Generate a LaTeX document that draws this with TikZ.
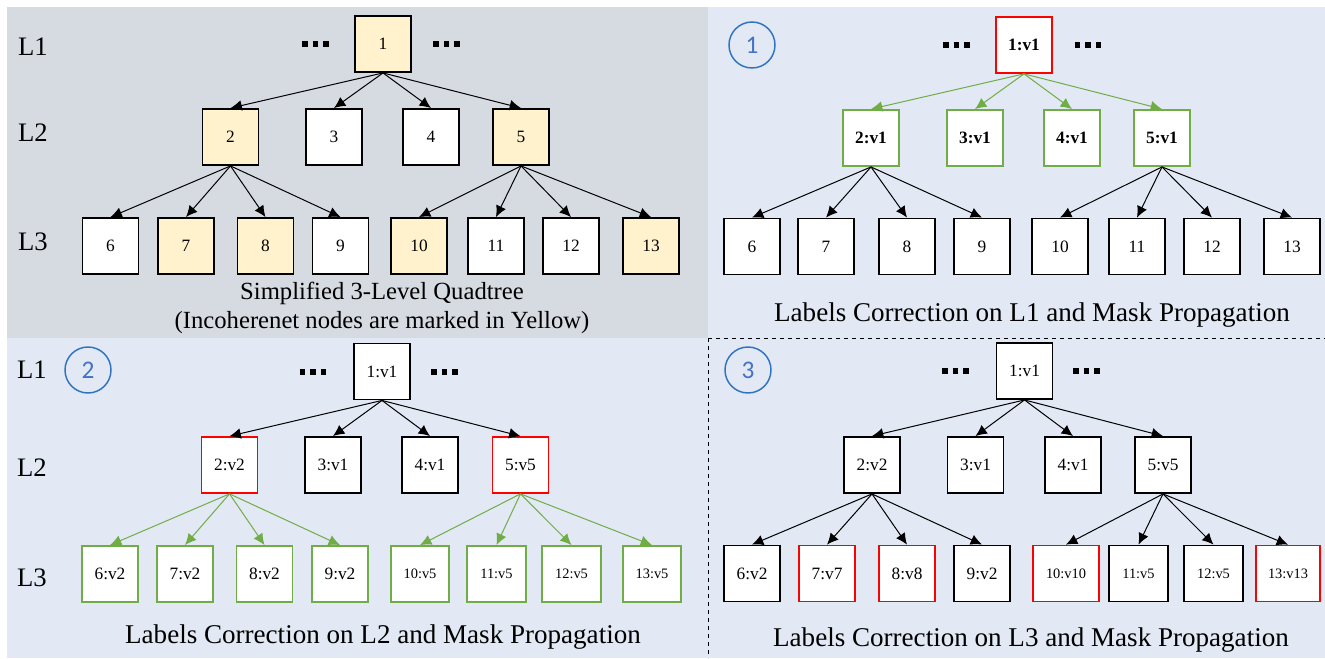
\documentclass[tikz,border=0pt]{standalone}
\usepackage{fontspec}
\setmainfont{Liberation Serif}
\newfontfamily\badgefont{Carlito}
\usetikzlibrary{arrows.meta, positioning}
\definecolor{panelGray}{HTML}{D6DAE1}
\definecolor{panelBlue}{HTML}{E2E8F4}
\definecolor{cellYellow}{HTML}{FFF2CC}
\definecolor{edgeGreen}{HTML}{70AD47}
\definecolor{badgeBlue}{HTML}{2F74C0}
\definecolor{digitBlue}{HTML}{4472C4}
\tikzset{
    qcell/.style={rectangle, draw, line width=1.4pt, fill=white, minimum size=42pt, inner sep=1pt, font=\fontsize{13pt}{15pt}\selectfont},
    qcellY/.style={qcell, fill=cellYellow},
    qcellR/.style={qcell, draw=red, line width=1.3pt},
    qcellG/.style={qcell, draw=edgeGreen},
    treeEdge/.style={-{Latex[length=8.5pt, width=8pt]}, line width=0.75pt},
    treeEdgeG/.style={treeEdge, color=edgeGreen},
    levelTag/.style={font=\fontsize{20pt}{22pt}\selectfont},
    capText/.style={align=center, font=\fontsize{20.3pt}{24pt}\selectfont},
    badge/.style={circle, draw=badgeBlue, line width=1.1pt, minimum size=34.5pt, inner sep=0pt, text=digitBlue, font=\badgefont\fontsize{19pt}{22pt}\selectfont},
    dotRow/.style={inner sep=0pt},
}
\newcommand{\sqDots}{\rule{4.3pt}{4.1pt}\hspace{3.6pt}\rule{4.3pt}{4.1pt}\hspace{3.6pt}\rule{4.3pt}{4.1pt}}
\newcommand{\fanOut}[3][treeEdge]{
    \foreach \kid in {#3} {\draw[#1] (#2.south) -- (\kid.north);}
}

\begin{document}
\begin{tikzpicture}[x=0.75pt, y=-0.75pt]
        \useasboundingbox (0,0) rectangle (1325,658);
        \fill[white] (0,0) rectangle (1325,658);
        % backgrounds and separators
        \fill[panelBlue] (7,7) rectangle (1325,658);
        \fill[panelGray] (7,7) rectangle (708,338);
        \draw[dashed, line width=0.6pt] (708,338) -- (1325,338);
        \draw[dashed, line width=0.6pt] (708,338) -- (708,658);

        % panel a: simplified quadtree
        \node[levelTag] (aL1) at (33,47) {L1};
        \node[levelTag] (aL2) at (33,133) {L2};
        \node[levelTag] (aL3) at (33,242) {L3};
        \node[qcellY] (a1) at (383,44) {1};
        \node[dotRow] (aDL) at (315.5,44) {\sqDots};
        \node[dotRow] (aDR) at (446.5,44) {\sqDots};
        \node[qcellY] (a2) at (230.5,137) {2};
        \node[qcell] (a3) at (334,137) {3};
        \node[qcell] (a4) at (431,137) {4};
        \node[qcellY] (a5) at (521,137) {5};
        \node[qcell] (a6) at (110.5,246) {6};
        \node[qcellY] (a7) at (186,246) {7};
        \node[qcellY] (a8) at (265.5,246) {8};
        \node[qcell] (a9) at (340.5,246) {9};
        \node[qcellY] (a10) at (419,246) {10};
        \node[qcell] (a11) at (496,246) {11};
        \node[qcell] (a12) at (571,246) {12};
        \node[qcellY] (a13) at (651,246) {13};
        \fanOut{a1}{a2,a3,a4,a5}
        \fanOut{a2}{a6,a7,a8,a9}
        \fanOut{a5}{a10,a11,a12,a13}
        \node[capText, font=\fontsize{18.5pt}{21.75pt}\selectfont] (aCap) at (382,307.5)
            {Simplified 3-Level Quadtree\\(Incoherenet nodes are marked in Yellow)};

        % panel b: correction on L1
        \node[badge] (bBadge) at (752,45) {1};
        \node[qcellR, font=\bfseries\fontsize{13pt}{15pt}\selectfont] (b1) at (1024,45) {1:v1};
        \node[dotRow] (bDL) at (956.5,45) {\sqDots};
        \node[dotRow] (bDR) at (1088,45) {\sqDots};
        \node[qcellG, font=\bfseries\fontsize{13pt}{15pt}\selectfont] (b2) at (871,138) {2:v1};
        \node[qcellG, font=\bfseries\fontsize{13pt}{15pt}\selectfont] (b3) at (975,138) {3:v1};
        \node[qcellG, font=\bfseries\fontsize{13pt}{15pt}\selectfont] (b4) at (1072,138) {4:v1};
        \node[qcellG, font=\bfseries\fontsize{13pt}{15pt}\selectfont] (b5) at (1162,138) {5:v1};
        \node[qcell] (b6) at (752,246.5) {6};
        \node[qcell] (b7) at (826,246.5) {7};
        \node[qcell] (b8) at (907,246.5) {8};
        \node[qcell] (b9) at (982,246.5) {9};
        \node[qcell] (b10) at (1060,246.5) {10};
        \node[qcell] (b11) at (1137,246.5) {11};
        \node[qcell] (b12) at (1212,246.5) {12};
        \node[qcell] (b13) at (1292,246.5) {13};
        \fanOut[treeEdgeG]{b1}{b2,b3,b4,b5}
        \fanOut{b2}{b6,b7,b8,b9}
        \fanOut{b5}{b10,b11,b12,b13}
        \node[capText] (bCap) at (1032,315) {Labels Correction on L1 and Mask Propagation};

        % panel c: correction on L2
        \node[levelTag] (cL1) at (32,370) {L1};
        \node[levelTag] (cL2) at (32,468) {L2};
        \node[levelTag] (cL3) at (32,578) {L3};
        \node[badge] (cBadge) at (88,370) {2};
        \node[qcell] (c1) at (382,371.5) {1:v1};
        \node[dotRow] (cDL) at (313,372) {\sqDots};
        \node[dotRow] (cDR) at (444.5,372) {\sqDots};
        \node[qcellR] (c2) at (229.5,465) {2:v2};
        \node[qcell] (c3) at (333,465) {3:v1};
        \node[qcell] (c4) at (430,465) {4:v1};
        \node[qcellR] (c5) at (520.5,465) {5:v5};
        \node[qcellG] (c6) at (110,574) {6:v2};
        \node[qcellG] (c7) at (185,574) {7:v2};
        \node[qcellG] (c8) at (264.5,574) {8:v2};
        \node[qcellG] (c9) at (340,574) {9:v2};
        \node[qcellG, minimum width=44pt, font=\fontsize{10.8pt}{13pt}\selectfont] (c10) at (420,574) {10:v5};
        \node[qcellG, minimum width=44pt, font=\fontsize{10.8pt}{13pt}\selectfont] (c11) at (496.5,574) {11:v5};
        \node[qcellG, minimum width=44pt, font=\fontsize{10.8pt}{13pt}\selectfont] (c12) at (571.5,574) {12:v5};
        \node[qcellG, minimum width=44pt, font=\fontsize{10.8pt}{13pt}\selectfont] (c13) at (652,574) {13:v5};
        \fanOut{c1}{c2,c3,c4,c5}
        \fanOut[treeEdgeG]{c2}{c6,c7,c8,c9}
        \fanOut[treeEdgeG]{c5}{c10,c11,c12,c13}
        \node[capText] (cCap) at (383,637) {Labels Correction on L2 and Mask Propagation};

        % panel d: correction on L3
        \node[badge] (dBadge) at (748,370) {3};
        \node[qcell] (d1) at (1024.5,371) {1:v1};
        \node[dotRow] (dDL) at (955.5,371) {\sqDots};
        \node[dotRow] (dDR) at (1086.5,371) {\sqDots};
        \node[qcell] (d2) at (872,465) {2:v2};
        \node[qcell] (d3) at (975.5,465) {3:v1};
        \node[qcell] (d4) at (1073,465) {4:v1};
        \node[qcell] (d5) at (1163,465) {5:v5};
        \node[qcell] (d6) at (752,573.5) {6:v2};
        \node[qcellR] (d7) at (827,573.5) {7:v7};
        \node[qcellR] (d8) at (907,573.5) {8:v8};
        \node[qcell] (d9) at (982,573.5) {9:v2};
        \node[qcellR, minimum width=49.5pt, font=\fontsize{10.8pt}{13pt}\selectfont] (d10) at (1066,573.5) {10:v10};
        \node[qcell, minimum width=44pt, font=\fontsize{10.8pt}{13pt}\selectfont] (d11) at (1138.5,573.5) {11:v5};
        \node[qcell, minimum width=44pt, font=\fontsize{10.8pt}{13pt}\selectfont] (d12) at (1213.5,573.5) {12:v5};
        \node[qcellR, minimum width=48pt, font=\fontsize{10.8pt}{13pt}\selectfont] (d13) at (1288,573.5) {13:v13};
        \fanOut{d1}{d2,d3,d4,d5}
        \fanOut{d2}{d6,d7,d8,d9}
        \fanOut{d5}{d10,d11,d12,d13}
        \node[capText] (dCap) at (1031,640) {Labels Correction on L3 and Mask Propagation};
    \end{tikzpicture}
\end{document}
